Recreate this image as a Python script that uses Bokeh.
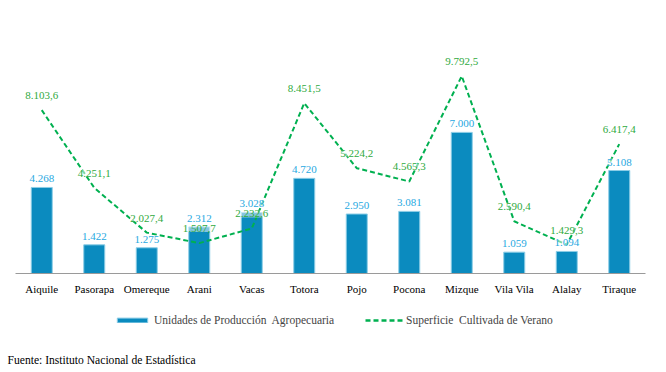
from bokeh.plotting import figure
from bokeh.layouts import column
from bokeh.models import ColumnDataSource, Range1d, Legend, LegendItem, Label
from bokeh.core.properties import value
from bokeh.embed import file_html
from bokeh.resources import INLINE

categories = ["Aiquile", "Pasorapa", "Omereque", "Arani", "Vacas", "Totora",
              "Pojo", "Pocona", "Mizque", "Vila Vila", "Alalay", "Tiraque"]
upa = [4268, 1422, 1275, 2312, 3028, 4720, 2950, 3081, 7000, 1059, 1094, 5108]
superficie = [8103.6, 4251.1, 2027.4, 1507.7, 2232.6, 8451.5, 5224.2, 4565.3,
              9792.5, 2590.4, 1429.3, 6417.4]
legend_labels = ["Unidades de Producción  Agropecuaria",
                 "Superficie  Cultivada de Verano"]
source_text = "Fuente: Instituto Nacional de Estadística"

def fmt_int(v):
    return f"{v:,}".replace(",", ".")

def fmt_dec(v):
    s = f"{v:,.1f}"
    return s.replace(",", "X").replace(".", ",").replace("X", ".")

src = ColumnDataSource(dict(
    cat=categories, upa=upa, sup=superficie,
    upa_lbl=[fmt_int(v) for v in upa],
    sup_lbl=[fmt_dec(v) for v in superficie],
))

FONT = "Liberation Serif"
BAR = "#0B8BBF"
BAR_EDGE = "#8CCDE6"
BAR_LBL = "#27A8E1"
LINE = "#00B050"
LINE_LBL = "#2FAA40"

p = figure(x_range=categories, y_range=Range1d(0, 12550), width=660, height=300,
           output_backend="svg", toolbar_location=None,
           min_border_left=15, min_border_right=15, min_border_top=20,
           min_border_bottom=27)
p.frame_align = False
p.outline_line_color = None
p.xgrid.visible = False
p.ygrid.visible = False
p.yaxis.visible = False
p.x_range.range_padding = 0

p.vbar(x="cat", top="upa", width=0.4, source=src, fill_color=BAR,
       line_color=BAR_EDGE, line_width=1)
p.line(x="cat", y="sup", source=src, line_color=LINE, line_width=2,
       line_dash="5 3")

p.text(x="cat", y="upa", text="upa_lbl", source=src, text_color=BAR_LBL,
       text_font=value(FONT), text_font_size="11px", text_align="center",
       text_baseline="bottom", y_offset=-5,
       background_fill_color="white", background_fill_alpha=0.5)
p.text(x="cat", y="sup", text="sup_lbl", source=src, text_color=LINE_LBL,
       text_font=value(FONT), text_font_size="11px", text_align="center",
       text_baseline="bottom", y_offset=-11,
       background_fill_color="white", background_fill_alpha=0.5)

ax = p.xaxis[0]
ax.axis_line_color = "#9A9A9A"
ax.axis_line_width = 1
ax.major_tick_line_color = None
ax.minor_tick_line_color = None
ax.major_tick_out = 0
ax.major_label_standoff = 9
ax.major_label_text_font = FONT
ax.major_label_text_font_size = "11px"
ax.major_label_text_color = "black"

# Bottom strip: legend and source note
q = figure(width=660, height=70, x_range=Range1d(0, 660), y_range=Range1d(0, 70),
           output_backend="svg", toolbar_location=None,
           min_border=0, min_border_left=0, min_border_right=0,
           min_border_top=0, min_border_bottom=0)
q.frame_align = False
q.axis.visible = False
q.grid.visible = False
q.outline_line_color = None

# legend swatches (placed outside the visible range)
lb = q.vbar(x=[-100], top=[-100], width=1, fill_color=BAR, line_color=BAR_EDGE)
ll = q.line(x=[-100, -90], y=[-100, -100], line_color=LINE, line_width=2.5,
            line_dash="5 3")

legend = Legend(items=[
    LegendItem(label=legend_labels[0], renderers=[lb]),
    LegendItem(label=legend_labels[1], renderers=[ll]),
], orientation="horizontal", location=(113, 44), padding=0, margin=0,
    border_line_color=None, background_fill_alpha=0,
    glyph_width=38, glyph_height=6, label_standoff=3, spacing=31,
    label_text_font=FONT, label_text_font_size="11.5px", label_height=12)
q.add_layout(legend, "center")

q.add_layout(Label(x=7, y=10, text=source_text, text_font=FONT,
                   text_font_size="11.6px", text_baseline="middle",
                   text_color="black"))

layout = column(p, q, spacing=0)
open("out.html", "w").write(file_html(layout, INLINE))
